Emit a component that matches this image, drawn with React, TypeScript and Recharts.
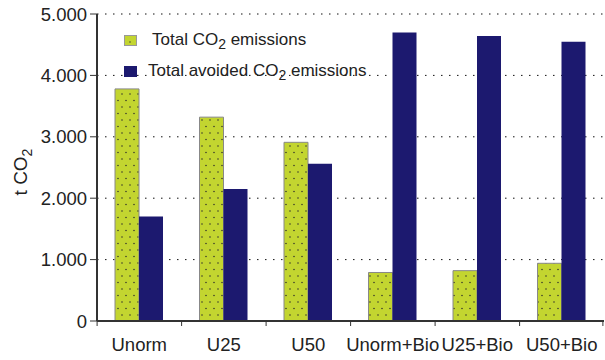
import { BarChart, Bar, XAxis, YAxis, CartesianGrid, Label } from 'recharts';

const categories = ['Unorm', 'U25', 'U50', 'Unorm+Bio', 'U25+Bio', 'U50+Bio'];
const totalEmissions = [3780, 3320, 2910, 790, 820, 940];
const avoidedEmissions = [1700, 2150, 2560, 4700, 4640, 4550];
const yTicks = [0, 1000, 2000, 3000, 4000, 5000];

const data = categories.map((name, i) => ({
  name,
  total: totalEmissions[i],
  avoided: avoidedEmissions[i],
}));

const GREEN = '#c3d530';
const BLUE = '#1c196f';
const FONT = '"Liberation Sans", Arial, sans-serif';

const fmt = (v: number) => (v === 0 ? '0' : `${Math.floor(v / 1000)}.${String(v % 1000).padStart(3, '0')}`);

const CatTick = (props: any) => {
  const { x, y, payload, index } = props;
  const half = 84.3 / 2;
  return (
    <g>
      <line x1={x - half} y1={y - 8} x2={x - half} y2={y - 3} stroke="#333" />
      {index === categories.length - 1 && <line x1={x + half - 1} y1={y - 8} x2={x + half - 1} y2={y - 3} stroke="#333" />}
      <text x={x} y={y + 22} textAnchor="middle" fontSize={18.5} fill="#222" fontFamily={FONT}>
        {payload.value}
      </text>
    </g>
  );
};

const LegendBox = () => (
  <div style={{ position: 'absolute', left: 124, top: 31, fontFamily: FONT, fontSize: 17, color: '#222' }}>
    <div style={{ display: 'flex', alignItems: 'center', height: 20 }}>
      <svg width={14} height={12} style={{ marginRight: 14 }}>
        <rect x={0.5} y={0.5} width={12} height={10} fill={GREEN} stroke="#999" />
        <circle cx={6} cy={7} r={0.7} fill="#333" />
      </svg>
      <span>Total CO<sub style={{ fontSize: 14 }}>2</sub> emissions</span>
    </div>
    <div style={{ display: 'flex', alignItems: 'center', height: 20, marginTop: 11 }}>
      <svg width={14} height={12} style={{ marginRight: 10 }}>
        <rect x={0} y={0} width={13} height={11} fill={BLUE} />
      </svg>
      <span>Total avoided CO<sub style={{ fontSize: 14 }}>2</sub> emissions</span>
    </div>
  </div>
);

export default function App() {
  return (
    <div style={{ position: 'absolute', left: 0, top: 0, width: 605, height: 360, background: '#fff' }}>
      <BarChart
        width={605}
        height={360}
        data={data}
        margin={{ top: 14, right: 1, left: 0, bottom: 0 }}
        barCategoryGap={18}
        barGap={0}
      >
        <defs>
          <pattern id="dots" width="8" height="13" patternUnits="userSpaceOnUse">
            <rect width="8" height="13" fill={GREEN} />
            <circle cx="2" cy="3" r="0.8" fill="#3a3a2a" />
            <circle cx="6" cy="9.5" r="0.8" fill="#3a3a2a" />
          </pattern>
        </defs>
        <CartesianGrid vertical={false} stroke="#111" strokeDasharray="1.5 6.5" />
        <XAxis
          dataKey="name"
          height={39}
          tickLine={false}
          axisLine={{ stroke: '#333', strokeWidth: 2 }}
          tick={<CatTick />}
          interval={0}
        />
        <YAxis
          width={97}
          domain={[0, 5000]}
          ticks={yTicks}
          tickFormatter={fmt}
          tick={{ fontSize: 18.5, fill: '#222', fontFamily: FONT }}
          tickSize={7}
          tickMargin={3}
          tickLine={{ stroke: '#333' }}
          axisLine={{ stroke: '#333', strokeWidth: 2 }}
        >
          <Label
            content={() => (
              <text transform="translate(27,172) rotate(-90)" textAnchor="middle" fontSize={19} fill="#222" fontFamily={FONT}>
                t CO<tspan fontSize={14} dy={5}>2</tspan>
              </text>
            )}
          />
        </YAxis>
        <Bar dataKey="total" fill="url(#dots)" stroke="#888" strokeWidth={1} isAnimationActive={false} />
        <Bar dataKey="avoided" fill={BLUE} isAnimationActive={false} />
      </BarChart>
      <LegendBox />
    </div>
  );
}
